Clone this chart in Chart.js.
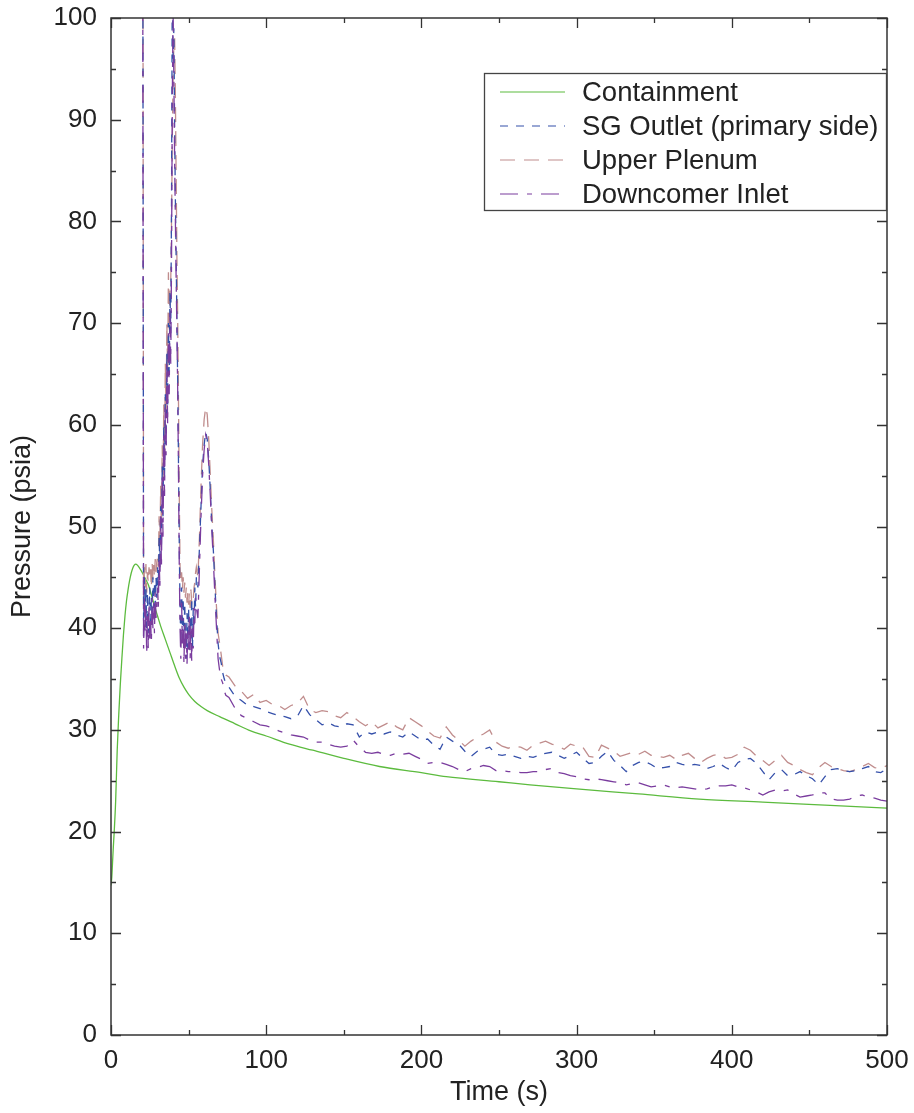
<!DOCTYPE html>
<html>
<head>
<meta charset="utf-8">
<script src="https://cdn.jsdelivr.net/npm/chart.js@4.4.1/dist/chart.umd.min.js"></script>
<style>
  html, body { margin: 0; padding: 0; background: #fff; }
  canvas { display: block; }
</style>
</head>
<body>
<canvas id="c" width="914" height="1113"></canvas>
<script>
// ---- axis ticks ----
const xTicks = [0, 100, 200, 300, 400, 500];
const xMinor = [50, 150, 250, 350, 450];
const yTicks = [0, 10, 20, 30, 40, 50, 60, 70, 80, 90, 100];
const yMinor = [5, 15, 25, 35, 45, 55, 65, 75, 85, 95];

// ---- containment pressure (psia) ----
const containmentTime = [0, 0.5, 1, 1.5, 2, 3, 4, 5, 6, 7, 8, 9, 10, 11, 12, 13, 14, 15, 16, 17, 18,
  20, 22, 24, 26, 28, 30, 32, 35, 38, 41, 44, 47, 50, 54, 58, 62, 70, 80, 90, 100,
  115, 130, 150, 173, 200, 216, 250, 270, 300, 340, 379, 420, 460, 500];
const containment = [14.7, 15.5, 17, 18.5, 19.8, 23, 28, 31.5, 34.5, 37, 39.3, 41.2, 42.7, 43.8, 44.7, 45.4, 45.9, 46.2, 46.3, 46.2, 46.0,
  45.5, 44.9, 44.3, 43.3, 42.2, 41.2, 40.2, 38.9, 37.6, 36.3, 35.1, 34.2, 33.5, 32.8, 32.3, 31.9, 31.3, 30.6, 29.9, 29.4,
  28.6, 28.0, 27.2, 26.4, 25.8, 25.4, 24.9, 24.6, 24.2, 23.7, 23.2, 22.9, 22.6, 22.3];

// ---- primary system sample times (s) ----
const primaryTime = [
  19, 20.5,
  21, 21.5, 22, 22.5, 23, 23.5, 24, 24.5, 25, 25.5, 26, 26.5, 27, 27.5, 28, 28.5, 29, 29.5, 30,
  30.5, 31, 31.5, 32, 32.5, 33, 33.5, 34, 34.5, 35, 35.5, 36, 36.5, 37, 37.5, 38,
  38.5, 39, 39.5, 40, 40.5, 41, 41.5, 42, 42.5, 43, 43.5, 44,
  44.5, 45, 45.5, 46, 46.5, 47, 47.5, 48, 48.5, 49, 49.5, 50, 50.5, 51, 51.5, 52, 52.5, 53, 53.5, 54, 54.5, 55,
  56, 57, 58, 59, 60, 61, 62, 63, 64, 65, 66, 67, 68, 69, 70, 71, 72, 73, 74,
  76, 80, 84, 88, 92, 96, 100, 104, 108, 112,
  116, 120, 124, 128, 132, 136, 140, 144, 148, 152,
  156, 160, 164, 168, 172, 176, 180, 184, 188, 192,
  196, 200, 204, 208, 212, 216, 220, 224, 228, 232,
  236, 240, 244, 248, 252, 256, 260, 264, 268, 272,
  276, 280, 284, 288, 292, 296, 300, 304, 308, 312,
  316, 320, 324, 328, 332, 336, 340, 344, 348, 352,
  356, 360, 364, 368, 372, 376, 380, 384, 388, 392,
  396, 400, 404, 408, 412, 416, 420, 424, 428, 432,
  436, 440, 444, 448, 452, 456, 460, 464, 468, 472,
  476, 480, 484, 488, 492, 496, 500];

// ---- SG outlet, primary side (psia) ----
const sgOutlet = [
  180, 110,
  39, 45, 41, 44, 40, 43.5, 39.5, 42, 44, 40, 43, 41, 45, 42, 44.5, 41.5, 45, 43, 46,
  44, 49, 46, 52, 48, 56, 51, 60, 55, 63, 58, 67, 62, 70, 65, 73,
  69, 82, 104, 96, 99, 89, 82, 76, 70, 64, 56, 48,
  42, 38.5, 44, 40, 43, 38, 42.5, 39, 37, 41.5, 38, 42, 37.5, 41, 39, 43, 38, 42, 40, 44, 42, 45,
  44, 48, 52, 56, 58, 59.3, 58.6, 56.5, 53.5, 50, 47.5, 44, 41, 38.5, 37.2, 36.6, 35.6, 35, 34.6,
  34.2, 33.3, 32.9, 32.4, 32.3, 32.1, 31.8, 31.6, 31.4, 31.3,
  31.1, 31.3, 32.4, 31.5, 31.0, 30.5, 30.7, 30.4, 30.3, 30.6,
  30.5, 29.3, 29.8, 29.6, 29.8, 29.6, 29.8, 29.5, 29.3, 29.8,
  29.4, 29.0, 29.1, 28.5, 28.1, 29.3, 28.9, 28.6, 27.9, 27.4,
  27.9, 28.1, 28.3, 27.6, 27.5, 27.6, 27.4, 27.2, 27.4, 27.3,
  27.5, 27.7, 27.8, 27.5, 27.2, 27.5, 27.8, 27.2, 26.7, 26.8,
  27.4, 27.9, 27.0, 26.5, 25.9, 26.5, 26.8, 26.9, 26.6, 26.2,
  26.3, 26.4, 26.8, 26.6, 26.5, 26.6, 26.5, 26.2, 26.4, 26.7,
  26.3, 26.0, 26.8, 27.1, 27.2, 26.7, 25.9, 25.1, 25.8, 26.1,
  25.5, 25.6, 25.9, 25.5, 25.2, 24.6, 25.4, 26.1, 26.2, 26.0,
  25.9, 26.0, 26.2, 26.4, 25.9, 25.8, 26.2];

// ---- upper plenum (psia) ----
const upperPlenum = [
  190, 120,
  42, 46, 44, 46.3, 43.5, 45.5, 44.5, 46, 45, 45.8, 44, 46.5, 44.8, 46.2, 45, 46.8, 45.5, 46.5, 47,
  46, 51, 48, 54, 50, 58, 53, 62, 57, 66, 61, 70, 65, 75, 69, 73,
  74, 80, 88, 94, 97.5, 98, 92, 84, 76, 70, 62, 53,
  46, 44.5, 45.5, 43.8, 45, 43.5, 44.5, 43, 44, 42.5, 43.5, 42.3, 43.5, 42, 43.8, 42.5, 43, 42.8, 44, 44.5, 45.5, 46,
  45, 49, 54, 58, 60.5, 61.7, 61, 58.5, 55, 51.5, 48.5, 45, 42, 39.5, 38.5, 37.4, 36.2, 35.8, 35.4,
  35.2, 34.3, 33.8, 33.1, 33.5, 32.7, 32.9, 32.5, 32.4, 32.0,
  32.4, 32.6, 33.3, 32.0, 31.7, 31.9, 31.8, 31.4, 31.2, 31.7,
  31.3, 30.8, 30.4, 30.8, 30.2, 30.5, 30.8, 30.3, 30.0, 31.2,
  30.8, 30.4, 29.9, 29.4, 29.2, 30.3, 29.5, 29.0, 28.4, 28.9,
  29.3, 29.6, 30.0, 28.8, 28.4, 28.2, 28.4, 28.3, 28.0, 28.5,
  28.7, 28.9, 28.6, 28.4, 28.1, 28.6, 28.4, 28.3, 27.4, 27.3,
  28.5, 28.2, 27.9, 27.4, 27.6, 27.8, 27.6, 27.9, 27.5, 27.4,
  27.3, 27.5, 27.1, 27.5, 27.7, 27.2, 26.8, 27.2, 27.5, 27.6,
  27.2, 27.3, 27.6, 28.3, 28.0, 27.4, 27.0, 26.5, 27.0, 27.5,
  26.8, 26.5, 26.1, 25.8, 25.6, 26.3, 26.8, 26.4, 26.2, 26.0,
  25.9, 26.1, 26.4, 26.7, 26.3, 26.2, 26.5];

// ---- downcomer inlet (psia) ----
const downcomerInlet = [
  170, 100,
  38, 43, 39.5, 42, 37.5, 41.5, 38, 42.5, 39, 41, 38.5, 43, 40, 42.5, 39.5, 43.5, 41, 42, 44,
  42, 47, 44, 51, 46, 55, 49, 59, 53, 62, 57, 66, 60, 69, 63, 71,
  66, 76, 92, 100.5, 94, 86, 80, 74, 69, 63, 55, 46,
  40, 37, 42.5, 38.5, 41, 36.5, 40.5, 37, 39.5, 36.5, 40, 37.5, 41.5, 37, 40.5, 36.8, 40, 38, 42, 40.5, 43, 42,
  41, 46, 51, 55, 57.5, 59, 58.3, 56, 53, 49.5, 46.5, 43, 40, 37, 35.8, 35, 34.6, 33.8, 33.4,
  33.2, 32.1, 31.4, 31.1, 30.8, 30.5, 30.4, 30.2, 29.9, 29.7,
  29.5, 29.4, 29.3, 29.0, 28.8, 28.8, 28.6, 28.4, 28.3, 28.4,
  29.0, 28.3, 27.8, 27.7, 27.8, 27.6, 27.5, 27.7, 27.6, 27.7,
  27.4, 27.1, 26.7, 26.8, 26.8, 26.6, 26.4, 26.1, 25.9, 26.2,
  26.3, 26.5, 26.4, 26.0, 26.0, 25.9, 25.9, 25.8, 25.8, 25.9,
  25.9, 26.1, 26.2, 25.8, 25.7, 25.5, 25.4, 25.2, 25.1, 25.2,
  25.1, 25.0, 24.9, 24.8, 24.6, 24.7, 24.8, 24.6, 24.4, 24.5,
  24.6, 24.4, 24.3, 24.4, 24.3, 24.2, 24.1, 24.2, 24.4, 24.5,
  24.5, 24.6, 24.4, 24.3, 24.1, 23.9, 23.6, 23.9, 24.1, 24.0,
  24.1, 23.7, 23.4, 23.5, 23.6, 23.8, 23.8, 23.2, 23.1, 23.1,
  23.2, 23.5, 23.6, 23.4, 23.3, 23.1, 23.0];

const FONT = '"Liberation Sans", Arial, Helvetica, sans-serif';
const pairs = (ts, vs) => ts.map((t, i) => ({ x: t, y: vs[i] }));

// Frame around the plot with inward-pointing ticks on all four sides
const frameTicks = {
  id: 'frameTicks',
  afterDatasetsDraw(chart) {
    const { ctx, chartArea: a, scales: { x, y } } = chart;
    ctx.save();
    ctx.strokeStyle = '#333';
    ctx.lineWidth = 1.3;
    ctx.beginPath();
    const vx = (list, len) => list.forEach(v => {
      const px = Math.round(x.getPixelForValue(v)) + 0.5;
      ctx.moveTo(px, a.bottom); ctx.lineTo(px, a.bottom - len);
      ctx.moveTo(px, a.top); ctx.lineTo(px, a.top + len);
    });
    const hy = (list, len) => list.forEach(v => {
      const py = Math.round(y.getPixelForValue(v)) + 0.5;
      ctx.moveTo(a.left, py); ctx.lineTo(a.left + len, py);
      ctx.moveTo(a.right, py); ctx.lineTo(a.right - len, py);
    });
    vx(xTicks, 10); vx(xMinor, 5);
    hy(yTicks, 10); hy(yMinor, 5);
    ctx.stroke();
    ctx.lineWidth = 1.5;
    ctx.strokeRect(a.left, a.top, a.right - a.left, a.bottom - a.top);
    ctx.restore();
  }
};

// Boxed legend in the upper right of the plot
const boxLegend = {
  id: 'boxLegend',
  afterDraw(chart) {
    const { ctx, chartArea: a } = chart;
    const right = a.right, left = a.right - 403, top = a.top + 55, bottom = a.top + 192;
    ctx.save();
    ctx.fillStyle = '#fff';
    ctx.fillRect(left, top, right - left, bottom - top);
    ctx.strokeStyle = '#444';
    ctx.lineWidth = 1.3;
    ctx.strokeRect(left + 0.5, top + 0.5, right - left - 1, bottom - top);
    chart.data.datasets.forEach((ds, i) => {
      const yy = top + 19 + i * 34;
      ctx.beginPath();
      ctx.setLineDash(ds.borderDash || []);
      ctx.strokeStyle = ds.borderColor;
      ctx.lineWidth = 1.2;
      ctx.moveTo(left + 16, yy); ctx.lineTo(left + 81, yy);
      ctx.stroke();
      ctx.setLineDash([]);
      ctx.fillStyle = '#222';
      ctx.font = '27.5px ' + FONT;
      ctx.textBaseline = 'middle';
      ctx.textAlign = 'left';
      ctx.fillText(ds.label, left + 98, yy + 1);
    });
    ctx.restore();
  }
};

new Chart(document.getElementById('c'), {
  type: 'line',
  data: {
    datasets: [
      { label: 'Containment', data: pairs(containmentTime, containment),
        borderColor: '#5cbb3e', borderWidth: 1.3, cubicInterpolationMode: 'monotone', order: 3 },
      { label: 'SG Outlet (primary side)', data: pairs(primaryTime, sgOutlet),
        borderColor: '#3550aa', borderWidth: 1.3, borderDash: [8, 8], order: 1 },
      { label: 'Upper Plenum', data: pairs(primaryTime, upperPlenum),
        borderColor: '#c08d8d', borderWidth: 1.3, borderDash: [15, 9], order: 2 },
      { label: 'Downcomer Inlet', data: pairs(primaryTime, downcomerInlet),
        borderColor: '#7a3c9e', borderWidth: 1.3, borderDash: [18, 9, 5, 9], order: 0 }
    ]
  },
  options: {
    responsive: false,
    animation: false,
    devicePixelRatio: 1,
    layout: { padding: { top: 18, right: 27, left: 0, bottom: 0 } },
    elements: { point: { radius: 0 }, line: { tension: 0 } },
    plugins: { legend: { display: false }, tooltip: { enabled: false } },
    scales: {
      x: {
        type: 'linear', min: 0, max: 500,
        afterBuildTicks: s => { s.ticks = xTicks.map(v => ({ value: v })); },
        afterFit: s => { s.height = 78; s.paddingLeft = 0; s.paddingRight = 0; },
        grid: { display: false, drawTicks: false },
        border: { display: false },
        ticks: { font: { family: FONT, size: 26 }, color: '#222', padding: 10, maxRotation: 0 },
        title: { display: true, text: 'Time (s)', font: { family: FONT, size: 27 }, color: '#222',
                 padding: { top: 0, bottom: 4 } }
      },
      y: {
        type: 'linear', min: 0, max: 100,
        afterBuildTicks: s => { s.ticks = yTicks.map(v => ({ value: v })); },
        afterFit: s => { s.width = 111; s.paddingTop = 0; s.paddingBottom = 0; },
        grid: { display: false, drawTicks: false },
        border: { display: false },
        ticks: { font: { family: FONT, size: 26 }, color: '#222', padding: 14 },
        title: { display: true, text: 'Pressure (psia)', font: { family: FONT, size: 27 }, color: '#222',
                 padding: { top: 6, bottom: 0 } }
      }
    }
  },
  plugins: [frameTicks, boxLegend]
});
</script>
</body>
</html>
